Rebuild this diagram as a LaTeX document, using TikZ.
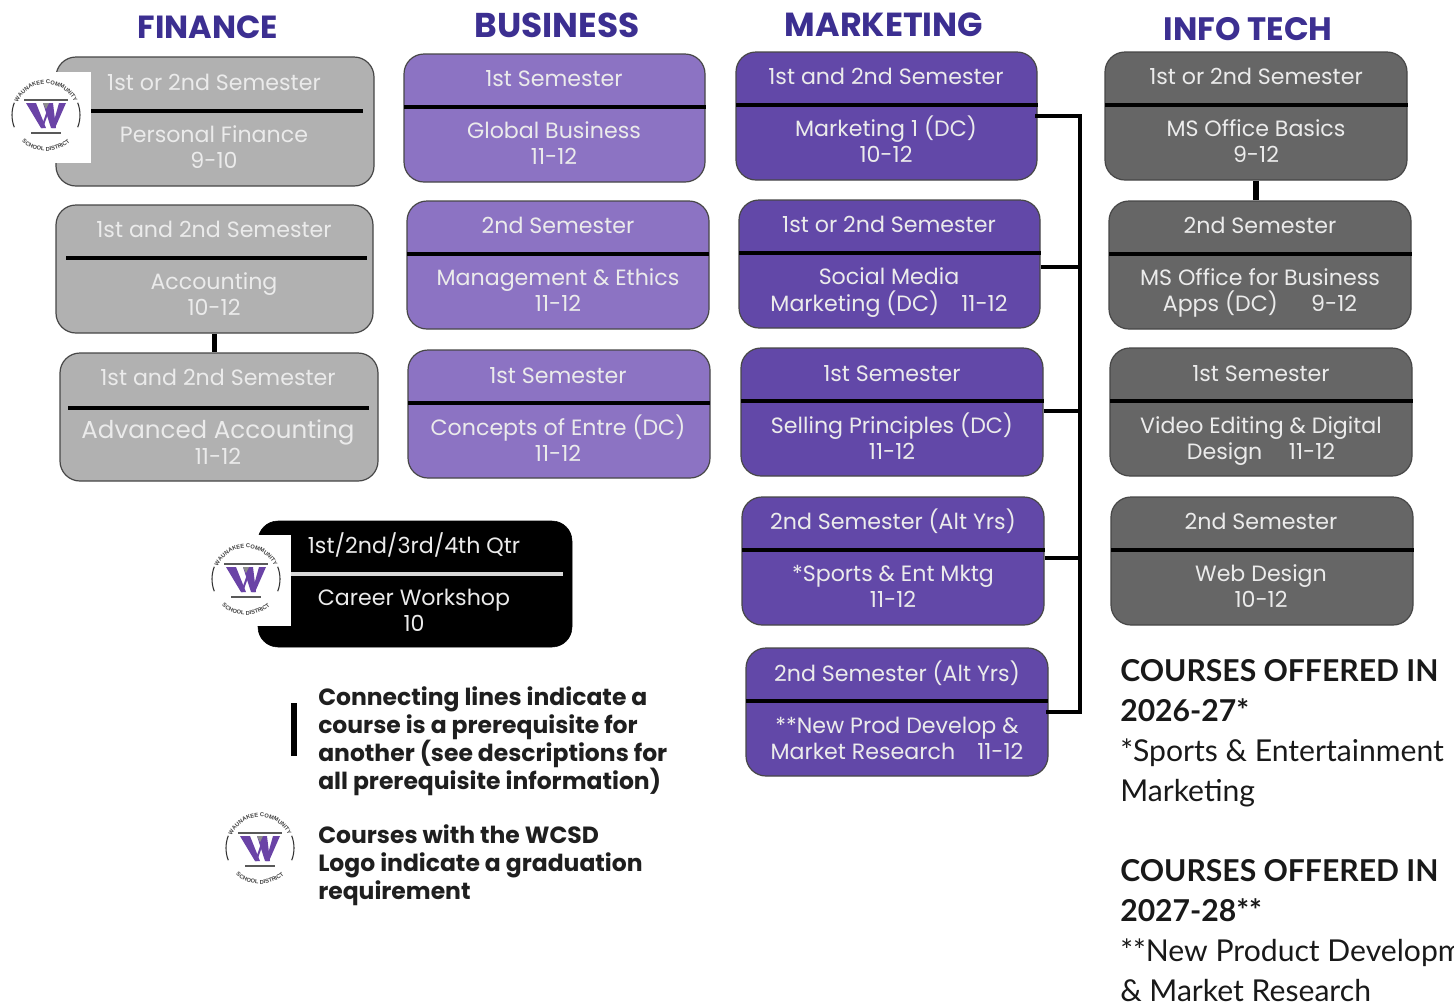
\documentclass[tikz,border=0pt]{standalone}
\usepackage{fontspec}
\setmainfont{Poppins}
\newfontfamily\bodyfont{Poppins}
\newfontfamily\notefont{Lato}
\newfontfamily\logofont{Liberation Sans}
\usetikzlibrary{decorations.text}
\definecolor{fin}{HTML}{B1B1B1}
\definecolor{bus}{HTML}{8C73C3}
\definecolor{mkt}{HTML}{6248A8}
\definecolor{itc}{HTML}{666666}
\definecolor{head}{HTML}{3C2F91}
\definecolor{wpurple}{HTML}{6A43A6}
\tikzset{
  x=0.75pt,y=-0.75pt,
  course/.style={draw=black!72,line width=0.9pt,rounded corners=15pt,inner sep=0pt,fill=#1},
  ctext/.style={text=#1,inner sep=0pt,font=\fontsize{16.6}{18}\selectfont\bodyfont,anchor=base},
  heading/.style={text=head,inner sep=0pt,font=\fontsize{#1}{26}\selectfont\bfseries},
  legend/.style={inner sep=0pt,anchor=north west,align=left,font=\fontsize{17.6}{21}\selectfont\bfseries,text=black!88},
  note/.style={inner sep=0pt,anchor=north west,align=left,text=black!90,font=\fontsize{22.6}{30}\selectfont\notefont},
  divider/.style={line width=3pt},
  prereq/.style={line width=3.4pt,draw=black},
}
% name, colour, x0, y0, x1, y1
\newcommand{\cbox}[6]{\node[course=#2,minimum width=#5*0.75pt-#3*0.75pt,minimum height=#6*0.75pt-#4*0.75pt] (#1) at ({(#3+#5)/2},{(#4+#6)/2}) {};}
% centre x, text colour, y1, text1, y2, text2, y3, text3
\newcommand{\ctxt}[8]{\node[ctext=#2] at (#1,#3+8) {#4};\node[ctext=#2] at (#1,#5+8) {#6};\node[ctext=#2] at (#1,#7+8) {#8};}
\newcommand{\wcsdlogo}[2]{%
  \begin{scope}[shift={(#1,#2)},y=0.75pt]
    \draw[line width=0.8pt,black!80] (159:34) arc (159:201:34);
    \draw[line width=0.8pt,black!80] (21:34) arc (21:-21:34);
    \path[postaction={decorate,decoration={text along path,text align=center,text={|\fontsize{4.3}{5}\selectfont\bfseries\logofont\color{black!75}|WAUNAKEE COMMUNITY}}}] (172:31) arc (172:8:31);
    \path[postaction={decorate,decoration={text along path,text align=center,text={|\fontsize{4.3}{5}\selectfont\bfseries\logofont\color{black!75}|SCHOOL DISTRICT}}}] (208:36) arc (208:332:36);
    \draw[line width=1.3pt,black!65] (-22,15) -- (22,15);
    \draw[line width=1.3pt,black!65] (-15,-18) -- (15,-18);
    \fill[wpurple] (-20,12) -- (-10,12) -- (0,-13) -- (-5,-13) -- cycle;
    \fill[wpurple] (-5,-13) -- (-3,-13) -- (3,4) -- (1.5,6) -- cycle;
    \fill[wpurple] (-3,12) -- (7,12) -- (10,-13) -- (5,-13) -- cycle;
    \fill[wpurple] (6,-13) -- (9,-13) -- (20,12) -- (13,12) -- cycle;
    \fill[black!45] (-3,12) -- (3,12) -- (0,6) -- cycle;
  \end{scope}}
\begin{document}
\begin{tikzpicture}
\useasboundingbox (0,0) rectangle (1454,1001);
\clip (0,0) rectangle (1454,1001);
\fill[white] (0,0) rectangle (1454,1001);

\node[heading=24] (hf) at (208,27) {FINANCE};
\node[heading=25.8] (hb) at (557,25) {BUSINESS};
\node[heading=25] (hm) at (884,25) {MARKETING};
\node[heading=24.3] (hi) at (1248,29) {INFO TECH};

\coordinate (busend) at (1080,712);
\cbox{f1}{fin}{56}{57}{374}{186}
\cbox{f2}{fin}{56}{205}{373}{333}
\cbox{f3}{fin}{60}{353}{378}{481}
\cbox{b1}{bus}{404}{54}{705}{182}
\cbox{b2}{bus}{407}{201}{709}{329}
\cbox{b3}{bus}{408}{350}{710}{478}
\cbox{m1}{mkt}{736}{52}{1037}{180}
\cbox{m2}{mkt}{739}{200}{1040}{328}
\cbox{m3}{mkt}{741}{348}{1043}{476}
\cbox{m4}{mkt}{742}{497}{1044}{625}
\cbox{m5}{mkt}{746}{648}{1048}{776}
\cbox{i1}{itc}{1105}{52}{1407}{180}
\cbox{i2}{itc}{1109}{201}{1411}{329}
\cbox{i3}{itc}{1110}{348}{1412}{476}
\cbox{i4}{itc}{1111}{497}{1413}{625}
\node[draw=black,fill=black,rounded corners=15pt,inner sep=0pt,minimum width=314*0.75pt,minimum height=126*0.75pt] (c1) at (415,584) {};

\draw[prereq,line width=4pt] (f2.south) -- (f2.south |- f3.north);
\draw[prereq,line width=4pt] (i1.south) -- (i1.south |- i2.north);
\draw[prereq,line cap=rect] (m1.east) -| (busend) -- (m5.east);
\draw[prereq] ([yshift=-2.25pt]m2.east) -- ([yshift=-2.25pt]m2.east -| busend);
\draw[prereq] ([yshift=0.75pt]m3.east) -- ([yshift=0.75pt]m3.east -| busend);
\draw[prereq] ([yshift=2.25pt]m4.east) -- ([yshift=2.25pt]m4.east -| busend);

% dividers
\draw[divider] (91,111) -- (363,111);
\draw[divider] (66,258) -- (367,258);
\draw[divider] (68,408) -- (369,408);
\draw[divider] (404,107) -- (706,107);
\draw[divider] (407,254) -- (709,254);
\draw[divider] (408,403) -- (710,403);
\draw[divider] (736,105) -- (1038,105);
\draw[divider] (739,253) -- (1041,253);
\draw[divider] (741,401) -- (1044,401);
\draw[divider] (742,550) -- (1045,550);
\draw[divider] (746,701) -- (1048,701);
\draw[divider] (1105,105) -- (1408,105);
\draw[divider] (1109,254) -- (1412,254);
\draw[divider] (1110,401) -- (1413,401);
\draw[divider] (1111,550) -- (1414,550);
\draw[divider,draw=black!15] (291,574) -- (563,574);

% logo patches
\fill[white] (50,72) rectangle (91,163);
\fill[white] (250,535) rectangle (291,626);
\wcsdlogo{46}{115}
\wcsdlogo{246}{579}
\wcsdlogo{260}{848}

\colorlet{lt}{white!92!black}
\ctxt{214}{lt}{82}{1st or 2nd Semester}{134}{Personal Finance}{160}{9-10}
\ctxt{214}{lt}{229}{1st and 2nd Semester}{281}{Accounting}{307}{10-12}
\ctxt{218}{lt}{377}{1st and 2nd Semester}{430}{\fontsize{18.4}{20}\selectfont Advanced Accounting}{456}{11-12}
\ctxt{554}{lt}{78}{1st Semester}{130}{Global Business}{156}{11-12}
\ctxt{558}{lt}{225}{2nd Semester}{277}{Management \& Ethics}{303}{11-12}
\ctxt{558}{lt}{375}{1st Semester}{427}{Concepts of Entre (DC)}{453}{11-12}
\ctxt{886}{lt}{76}{1st and 2nd Semester}{128}{Marketing 1 (DC)}{154}{10-12}
\ctxt{889}{lt}{224}{1st or 2nd Semester}{276}{Social Media}{303}{Marketing (DC)\hspace{1em}11-12}
\ctxt{892}{lt}{373}{1st Semester}{425}{Selling Principles (DC)}{451}{11-12}
\ctxt{893}{lt}{521}{2nd Semester (Alt Yrs)}{573}{*Sports \& Ent Mktg}{599}{11-12}
\ctxt{897}{lt}{673}{2nd Semester (Alt Yrs)}{725}{**New Prod Develop \&}{751}{Market Research\hspace{1em}11-12}
\ctxt{1256}{lt}{76}{1st or 2nd Semester}{128}{MS Office Basics}{154}{9-12}
\ctxt{1260}{lt}{225}{2nd Semester}{277}{MS Office for Business}{303}{Apps (DC)\hspace{1.5em}9-12}
\ctxt{1261}{lt}{373}{1st Semester}{425}{Video Editing \& Digital}{451}{Design\hspace{1.2em}11-12}
\ctxt{1261}{lt}{521}{2nd Semester}{573}{Web Design}{599}{10-12}
\ctxt{414}{lt}{545}{1st/2nd/3rd/4th Qtr}{597}{Career Workshop}{623}{10}

% legend
\coordinate (la) at (294,703);
\coordinate (lb) at (294,756);
\draw[line width=4pt] (la) -- (lb);
\node[legend] (l1) at (318,686) {Connecting lines indicate a\\course is a prerequisite for\\another (see descriptions for\\all prerequisite information)};
\node[legend] (l2) at (318,824) {Courses with the WCSD\\Logo indicate a graduation\\requirement};

\node[note] (n1) at (1120,659) {\textbf{COURSES OFFERED IN}\\\textbf{2026-27*}\\*Sports \& Entertainment\\Marketing};
\node[note] (n2) at (1120,859) {\textbf{COURSES OFFERED IN}\\\textbf{2027-28**}\\**New Product Development\\\& Market Research};
\end{tikzpicture}
\end{document}
